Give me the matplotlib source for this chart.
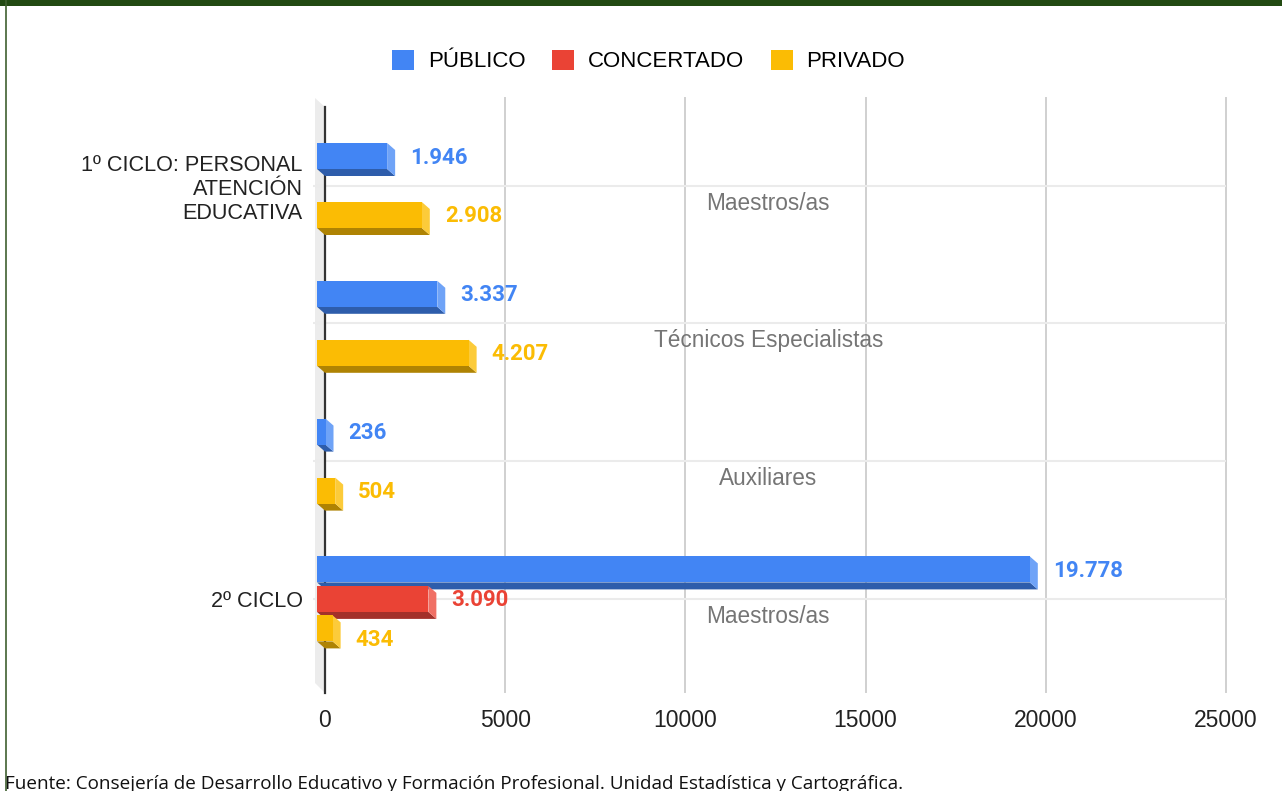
import matplotlib
matplotlib.use("Agg")
import matplotlib.pyplot as plt
from matplotlib.patches import Polygon, Rectangle, Patch
from matplotlib.lines import Line2D

# data
groups = ["Maestros/as", "Técnicos Especialistas", "Auxiliares", "Maestros/as"]
ciclos = ["1º CICLO: PERSONAL\nATENCIÓN\nEDUCATIVA", "2º CICLO"]
ciclo_group = [0, 3]
series_names = ["PÚBLICO", "CONCERTADO", "PRIVADO"]
publico = [1946, 3337, 236, 19778]
concertado = [None, None, None, 3090]
privado = [2908, 4207, 504, 434]
x_ticks = [0, 5000, 10000, 15000, 20000, 25000]

# (front, dark bottom, light side)
COLORS = [
    ("#4285F4", "#2E5DAB", "#6FA3F7"),
    ("#EA4335", "#A3302A", "#F07065"),
    ("#FBBC04", "#AF8303", "#FCCB3A"),
]

W, H = 1282, 791
PX_X = 901 / 25000      # pixels per unit of value
PX_Y = 137.8            # pixels per group
DX = 8 / PX_X           # 3d depth
DY = 7 / PX_Y
SLOT = 29.5 / PX_Y
FACE = 26 / PX_Y

AX_TOP, AX_BOT = 98, 692
Y_TOP = (AX_TOP - 185.5) / PX_Y
Y_BOT = (AX_BOT - 185.5) / PX_Y

# labels the chart pushed down to clear the bar above (series, group) -> px
LABEL_NUDGE = {(2, 3): 10}

SANS = ["Liberation Sans", "DejaVu Sans"]


def fmt(v):
    return f"{v:,}".replace(",", ".")


def draw_bar(ax, v, yc, cols):
    front, dark, light = cols
    x0, x1 = -DX, v - DX
    top, bot = yc - FACE / 2, yc + FACE / 2
    ax.add_patch(Polygon([(x0, bot), (x1, bot), (x1 + DX, bot + DY), (x0 + DX, bot + DY)],
                         closed=True, facecolor=dark, edgecolor="none", clip_on=False, zorder=4))
    ax.add_patch(Polygon([(x1, top), (x1 + DX, top + DY), (x1 + DX, bot + DY), (x1, bot)],
                         closed=True, facecolor=light, edgecolor="none", clip_on=False, zorder=4))
    ax.add_patch(Rectangle((x0, top), v, FACE, facecolor=front, edgecolor="none",
                           clip_on=False, zorder=5))


fig = plt.figure(figsize=(W / 100, H / 100), dpi=100)
ax = fig.add_axes([325 / W, (H - AX_BOT) / H, 901 / W, (AX_BOT - AX_TOP) / H])
ax.set_xlim(0, 25000)
ax.set_ylim(Y_BOT, Y_TOP)
for s in ax.spines.values():
    s.set_visible(False)

# back wall
ax.add_patch(Polygon([(-10 / PX_X, Y_TOP),
                      (0, Y_TOP + 9 / PX_Y),
                      (0, Y_BOT + 1 / PX_Y),
                      (-10 / PX_X, Y_BOT - 9 / PX_Y)],
                     closed=True, facecolor="#ececec", edgecolor="none", clip_on=False, zorder=1))

# grid
for t in x_ticks[1:]:
    ax.plot([t, t], [Y_TOP, Y_BOT], color="#d0d0d0", lw=1.4, zorder=2, clip_on=False)
ax.hlines(range(len(groups)), -12 / PX_X, 25000, color="#ebebeb", lw=1.5, zorder=2, clip_on=False)
ax.plot([0, 0], [Y_TOP + 9 / PX_Y, Y_BOT + 1 / PX_Y], color="#333333", lw=1.6, zorder=3,
        clip_on=False)

# bars + value labels
series = [publico, concertado, privado]
for si, vals in enumerate(series):
    for g, v in enumerate(vals):
        if v is None:
            continue
        yc = g + (si - 1) * SLOT
        draw_bar(ax, v, yc, COLORS[si])
        ly = yc + (1.5 + LABEL_NUDGE.get((si, g), 0)) / PX_Y
        ax.text(v + 15 / PX_X, ly, fmt(v), ha="left", va="center", color=COLORS[si][0],
                fontsize=16, fontweight="bold", family=["Roboto", "DejaVu Sans"], zorder=6)

# sub-category labels
for g, name in enumerate(groups):
    ax.text(12300, g + 17.5 / PX_Y, name, ha="center", va="center", color="#757575",
            fontsize=16.3, family=SANS, zorder=6)

ax.set_xticks(x_ticks)
ax.set_xticklabels([str(t) for t in x_ticks], family=SANS, fontsize=16.5, color="#222222")
ax.set_yticks(ciclo_group)
ax.set_yticklabels(ciclos, family=SANS, fontsize=15.6, color="#222222", linespacing=1.19)
ax.tick_params(axis="x", length=0, pad=12)
ax.tick_params(axis="y", length=0, pad=16)

# legend
handles = [Patch(facecolor=c[0], edgecolor="none") for c in COLORS]
fig.legend(handles, series_names, loc="center", bbox_to_anchor=(648.5 / W, 1 - 61 / H),
           ncol=3, frameon=False, handlelength=1.0, handleheight=1.0, handletextpad=0.6,
           columnspacing=1.2, prop={"family": SANS, "size": 16})

# frame decoration
fig.add_artist(Rectangle((0, 1 - 6 / H), 1, 6 / H, transform=fig.transFigure,
                         facecolor="#224A12", edgecolor="none"))
fig.add_artist(Line2D([5.5 / W, 5.5 / W], [0, 1], transform=fig.transFigure,
                      color="#3F6030", lw=1.2))

fig.text(5 / W, 2 / H,
         "Fuente: Consejería de Desarrollo Educativo y Formación Profesional. Unidad Estadística y Cartográfica.",
         ha="left", va="baseline", fontsize=13.55, family=["Open Sans", "DejaVu Sans"], color="#111111")

fig.savefig("out.png", dpi=100)
